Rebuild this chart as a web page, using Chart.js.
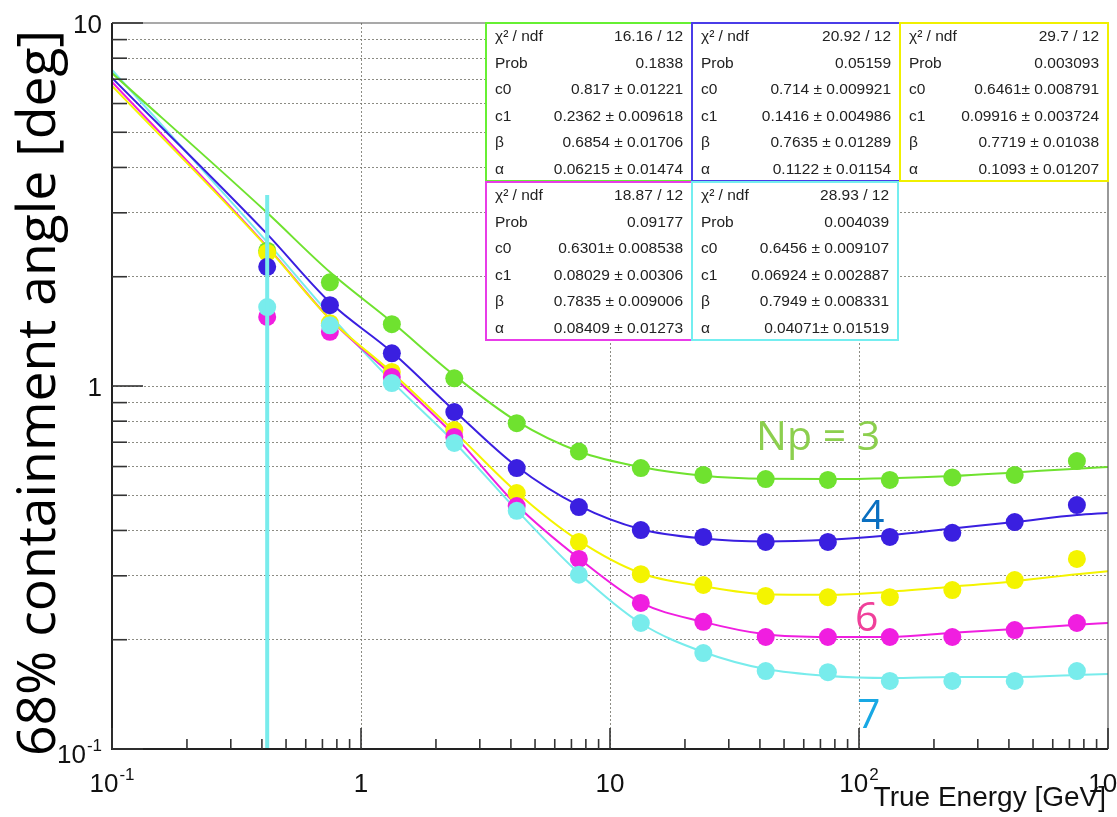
<!DOCTYPE html>
<html>
<head>
<meta charset="utf-8">
<title>68% containment angle vs true energy</title>
<script src="https://cdn.jsdelivr.net/npm/chart.js@4.4.1/dist/chart.umd.min.js"></script>
<style>
  html, body { margin: 0; padding: 0; background: #fff; }
  #wrap { position: relative; width: 1117px; height: 817px; }
</style>
</head>
<body>
<div id="wrap"><canvas id="psfChart"></canvas></div>
<script>
// binned points, true energy in GeV
const point_energy = [0.42, 0.75, 1.33, 2.37, 4.22, 7.5, 13.3, 23.7, 42.2, 75, 133, 237, 422, 750];

// 68% containment angle [deg] per number of photons (Np)
const angle_np3 = [2.36, 1.93, 1.48, 1.05, 0.79, 0.66, 0.594, 0.569, 0.554, 0.551, 0.551, 0.56, 0.569, 0.621];
const angle_np4 = [2.13, 1.67, 1.23, 0.848, 0.594, 0.464, 0.401, 0.384, 0.372, 0.372, 0.384, 0.394, 0.422, 0.47];
const angle_np5 = [2.33, 1.49, 1.093, 0.756, 0.507, 0.372, 0.303, 0.283, 0.264, 0.262, 0.262, 0.274, 0.292, 0.334];
const angle_np6 = [1.55, 1.41, 1.059, 0.724, 0.467, 0.334, 0.2525, 0.224, 0.2035, 0.2035, 0.2035, 0.2035, 0.2127, 0.2224];
const angle_np7 = [1.65, 1.47, 1.019, 0.697, 0.453, 0.302, 0.2224, 0.1838, 0.164, 0.1628, 0.154, 0.154, 0.154, 0.164];

// only the lowest Np=7 bin has an error bar longer than the marker
const err_np7 = [1.71, 0, 0, 0, 0, 0, 0, 0, 0, 0, 0, 0, 0, 0];

// fitted curves, sampled along the energy axis
const fit_energy = [0.1, 0.42, 0.75, 1.33, 2.37, 4.22, 7.5, 13.3, 23.7, 42.2, 75, 133, 237, 422, 750, 1000];
const fit_np3 = [7.28, 3.0, 2.06, 1.5, 1.07, 0.8, 0.66, 0.598, 0.566, 0.555, 0.554, 0.557, 0.565, 0.578, 0.592, 0.598];
const fit_np4 = [7.06, 2.62, 1.7, 1.24, 0.855, 0.6, 0.468, 0.403, 0.38, 0.373, 0.377, 0.388, 0.405, 0.422, 0.441, 0.447];
const fit_np5 = [6.71, 2.41, 1.53, 1.09, 0.75, 0.51, 0.375, 0.305, 0.281, 0.267, 0.266, 0.271, 0.28, 0.29, 0.303, 0.309];
const fit_np6 = [6.88, 2.42, 1.53, 1.07, 0.73, 0.47, 0.335, 0.253, 0.224, 0.207, 0.2035, 0.2035, 0.209, 0.214, 0.22, 0.2225];
const fit_np7 = [7.42, 2.49, 1.57, 1.03, 0.7, 0.455, 0.305, 0.222, 0.185, 0.166, 0.159, 0.157, 0.158, 0.158, 0.16, 0.161];

// fit statistics, Np = 3, 4, 5, 6, 7
const stat_names = ['\u03c7\u00b2 / ndf', 'Prob', 'c0', 'c1', '\u03b2', '\u03b1'];
const stat_chi2 = ['16.16 / 12', '20.92 / 12', '29.7 / 12', '18.87 / 12', '28.93 / 12'];
const stat_prob = ['0.1838', '0.05159', '0.003093', '0.09177', '0.004039'];
const stat_c0 = ['0.817 \u00b1 0.01221', '0.714 \u00b1 0.009921', '0.6461\u00b1 0.008791', '0.6301\u00b1 0.008538', '0.6456 \u00b1 0.009107'];
const stat_c1 = ['0.2362 \u00b1 0.009618', '0.1416 \u00b1 0.004986', '0.09916 \u00b1 0.003724', '0.08029 \u00b1 0.00306', '0.06924 \u00b1 0.002887'];
const stat_beta = ['0.6854 \u00b1 0.01706', '0.7635 \u00b1 0.01289', '0.7719 \u00b1 0.01038', '0.7835 \u00b1 0.009006', '0.7949 \u00b1 0.008331'];
const stat_alpha = ['0.06215 \u00b1 0.01474', '0.1122 \u00b1 0.01154', '0.1093 \u00b1 0.01207', '0.08409 \u00b1 0.01273', '0.04071\u00b1 0.01519'];

// axis ticks
const x_major = [0.1, 1, 10, 100, 1000];
const x_minor = [0.2, 0.3, 0.4, 0.5, 0.6, 0.7, 0.8, 0.9, 2, 3, 4, 5, 6, 7, 8, 9,
                 20, 30, 40, 50, 60, 70, 80, 90, 200, 300, 400, 500, 600, 700, 800, 900];
const y_major = [0.1, 1, 10];
const y_minor = [0.2, 0.3, 0.4, 0.5, 0.6, 0.7, 0.8, 0.9, 2, 3, 4, 5, 6, 7, 8, 9];
const x_labels = [['10', '-1'], ['1', ''], ['10', ''], ['10', '2'], ['10', '3']];
const y_labels = [['10', '-1'], ['1', ''], ['10', '']];

const series_colors = ['#6fe22f', '#3a1fe0', '#f4f400', '#f01ee0', '#78ecec'];
const box_colors = ['#66f033', '#4a3ce8', '#f0f000', '#e83ce8', '#74eef0'];

// Np labels written next to the curves
const np_labels = [
    { text: 'Np = 3', x: 38.6, y: 0.733, color: '#8ccf4e' },
    { text: '4', x: 101.9, y: 0.444, color: '#0a6fc0' },
    { text: '6', x: 96.4, y: 0.2325, color: '#f0409a' },
    { text: '7', x: 98.2, y: 0.1257, color: '#18a8e4' }
];

const AXIS_FONT = '"Liberation Sans", Arial, sans-serif';

function to_points(xs, ys) {
    return xs.map((x, i) => ({ x: x, y: ys[i] }));
}

function build_datasets() {
    const points = [angle_np3, angle_np4, angle_np5, angle_np6, angle_np7];
    const fits = [fit_np3, fit_np4, fit_np5, fit_np6, fit_np7];
    // markers stacked: cyan on top, then magenta, blue, yellow, green
    const point_order = [4, 2, 3, 1, 0];
    const datasets = [];
    fits.forEach((f, i) => {
        datasets.push({
            label: 'fit Np=' + (i + 3),
            data: to_points(fit_energy, f),
            showLine: true,
            borderColor: series_colors[i],
            borderWidth: 2,
            pointRadius: 0,
            cubicInterpolationMode: 'monotone',
            order: 10 + i
        });
    });
    points.forEach((p, i) => {
        datasets.push({
            label: 'Np=' + (i + 3),
            data: to_points(point_energy, p),
            showLine: false,
            backgroundColor: series_colors[i],
            borderWidth: 0,
            pointRadius: 9,
            pointHoverRadius: 9,
            order: point_order[i]
        });
    });
    return datasets;
}

// "10" with a raised exponent
function draw_power(ctx, label, x, baseline, align) {
    ctx.font = '26px ' + AXIS_FONT;
    const w_base = ctx.measureText(label[0]).width;
    ctx.font = '17px ' + AXIS_FONT;
    const w_exp = label[1] ? ctx.measureText(label[1]).width + 1 : 0;
    const total = w_base + w_exp;
    let start = x - total / 2;
    if (align === 'right') start = x - total;
    ctx.textAlign = 'left';
    ctx.textBaseline = 'alphabetic';
    ctx.font = '26px ' + AXIS_FONT;
    ctx.fillText(label[0], start, baseline);
    if (label[1]) {
        ctx.font = '17px ' + AXIS_FONT;
        ctx.fillText(label[1], start + w_base + 1, baseline - 12);
    }
}

const psf_decorations = {
    id: 'psf_decorations',
    afterDatasetsDraw(chart) {
        const ctx = chart.ctx;
        const area = chart.chartArea;
        const xs = chart.scales.x;
        const ys = chart.scales.y;

        // error bar on the Np=7 points
        ctx.save();
        ctx.beginPath();
        ctx.rect(area.left, area.top, area.right - area.left, area.bottom - area.top);
        ctx.clip();
        ctx.strokeStyle = series_colors[4];
        ctx.lineWidth = 4;
        err_np7.forEach((e, i) => {
            if (!e) return;
            const px = xs.getPixelForValue(point_energy[i]);
            const hi = ys.getPixelForValue(angle_np7[i] + e);
            const lo_val = angle_np7[i] - e;
            const lo = lo_val > 0 ? ys.getPixelForValue(lo_val) : area.bottom;
            ctx.beginPath();
            ctx.moveTo(px, hi);
            ctx.lineTo(px, lo);
            ctx.stroke();
        });
        ctx.restore();

        ctx.save();
        // frame
        ctx.strokeStyle = '#555';
        ctx.lineWidth = 1.2;
        ctx.beginPath();
        ctx.moveTo(area.left, area.top);
        ctx.lineTo(area.right, area.top);
        ctx.lineTo(area.right, area.bottom);
        ctx.stroke();
        ctx.strokeStyle = '#222';
        ctx.lineWidth = 2;
        ctx.beginPath();
        ctx.moveTo(area.left, area.top);
        ctx.lineTo(area.left, area.bottom);
        ctx.lineTo(area.right, area.bottom);
        ctx.stroke();

        // inner tick marks
        ctx.strokeStyle = '#333';
        ctx.lineWidth = 1.6;
        const tick = (x1, y1, x2, y2) => { ctx.beginPath(); ctx.moveTo(x1, y1); ctx.lineTo(x2, y2); ctx.stroke(); };
        y_minor.forEach(v => { const py = ys.getPixelForValue(v); tick(area.left, py, area.left + 15, py); });
        y_major.forEach(v => { const py = ys.getPixelForValue(v); tick(area.left, py, area.left + 31, py); });
        x_minor.forEach(v => { const px = xs.getPixelForValue(v); tick(px, area.bottom, px, area.bottom - 10); });
        x_major.forEach(v => { const px = xs.getPixelForValue(v); tick(px, area.bottom, px, area.bottom - 21); });

        // tick labels
        ctx.fillStyle = '#111';
        y_major.forEach((v, i) => {
            const py = ys.getPixelForValue(v);
            const base = y_labels[i][1] ? py + 14 : py + 10;
            draw_power(ctx, y_labels[i], area.left - 10, base, 'right');
        });
        x_major.forEach((v, i) => {
            draw_power(ctx, x_labels[i], xs.getPixelForValue(v), area.bottom + 43, 'center');
        });

        // axis titles
        ctx.font = '28px ' + AXIS_FONT;
        ctx.textAlign = 'right';
        ctx.textBaseline = 'alphabetic';
        ctx.fillText('True Energy [GeV]', area.right - 2, area.bottom + 57);

        ctx.save();
        ctx.translate(40, 393);
        ctx.rotate(-Math.PI / 2);
        ctx.font = '53.5px "Open Sans", sans-serif';
        ctx.textAlign = 'center';
        ctx.textBaseline = 'middle';
        ctx.fillStyle = '#000';
        ctx.fillText('68% containment angle [deg]', 0, 0);
        ctx.restore();

        // fit statistics boxes
        const boxes = [
            { x: 486, y: 23, w: 206, h: 158 },
            { x: 692, y: 23, w: 208, h: 158 },
            { x: 900, y: 23, w: 208, h: 158 },
            { x: 486, y: 182, w: 206, h: 158 },
            { x: 692, y: 182, w: 206, h: 158 }
        ];
        boxes.forEach((b, i) => {
            ctx.fillStyle = '#fff';
            ctx.fillRect(b.x, b.y, b.w, b.h);
            ctx.strokeStyle = box_colors[i];
            ctx.lineWidth = 2;
            ctx.strokeRect(b.x, b.y, b.w, b.h);
            const values = [stat_chi2[i], stat_prob[i], stat_c0[i], stat_c1[i], stat_beta[i], stat_alpha[i]];
            ctx.fillStyle = '#222';
            ctx.font = '15.5px ' + AXIS_FONT;
            ctx.textBaseline = 'middle';
            stat_names.forEach((name, r) => {
                const ry = b.y + 14 + r * 26.5;
                ctx.textAlign = 'left';
                ctx.fillText(name, b.x + 9, ry);
                ctx.textAlign = 'right';
                ctx.fillText(values[r], b.x + b.w - 9, ry);
            });
        });

        // Np labels
        ctx.font = '41px "Open Sans", sans-serif';
        ctx.textAlign = 'left';
        ctx.textBaseline = 'alphabetic';
        np_labels.forEach(l => {
            ctx.fillStyle = l.color;
            ctx.fillText(l.text, xs.getPixelForValue(l.x), ys.getPixelForValue(l.y) + 15);
        });
        ctx.restore();
    }
};

function log_grid(values) {
    return function(scale) {
        scale.ticks = values.map(v => ({ value: v }));
    };
}

document.addEventListener('DOMContentLoaded', function() {
    const ctx = document.getElementById('psfChart').getContext('2d');
    const grid_style = { drawTicks: false, color: 'rgba(120,120,110,0.85)', lineWidth: 1 };

    window.psf_chart = new Chart(ctx, {
        type: 'scatter',
        data: { datasets: build_datasets() },
        options: {
            responsive: true,
            maintainAspectRatio: false,
            animation: false,
            events: [],
            layout: { padding: { left: 112, top: 23, right: 8, bottom: 68 } },
            plugins: {
                legend: { display: false },
                tooltip: { enabled: false }
            },
            scales: {
                x: {
                    type: 'logarithmic',
                    min: 0.1,
                    max: 1000,
                    afterBuildTicks: log_grid([1, 10, 100]),
                    ticks: { display: false, autoSkip: false },
                    grid: grid_style,
                    border: { display: false, dash: [2, 2] }
                },
                y: {
                    type: 'logarithmic',
                    min: 0.1,
                    max: 10,
                    afterBuildTicks: log_grid(y_minor.concat([1])),
                    ticks: { display: false, autoSkip: false },
                    grid: grid_style,
                    border: { display: false, dash: [2, 2] }
                }
            }
        },
        plugins: [psf_decorations]
    });
});
</script>
</body>
</html>
